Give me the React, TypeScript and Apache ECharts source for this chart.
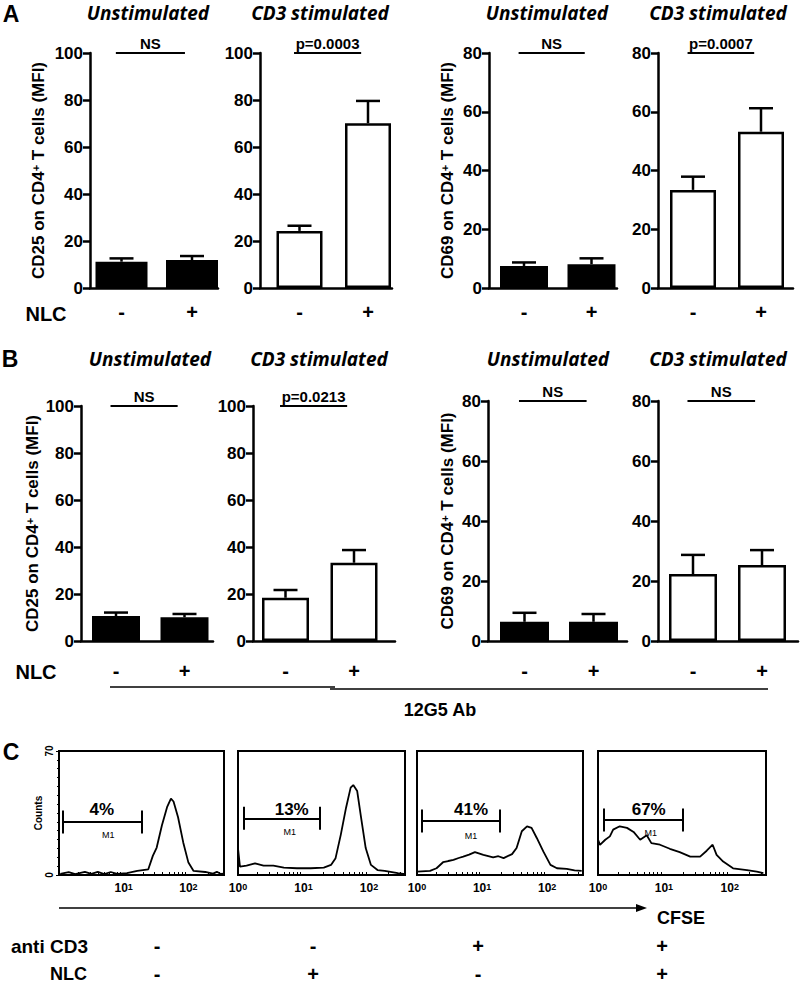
import React, { useEffect, useRef } from 'react';
import * as echarts from 'echarts';

// ---------------- Data ----------------
const nlcTicks = ['-', '+'];

// Panel A (MFI)
const aCD25Unstim = [11.2, 11.9];
const aCD25UnstimErr = [1.4, 1.7];
const aCD25CD3 = [24.3, 70.1];
const aCD25CD3Err = [2.2, 9.5];
const aCD69Unstim = [7.5, 8.1];
const aCD69UnstimErr = [1.2, 2.0];
const aCD69CD3 = [33.4, 53.2];
const aCD69CD3Err = [4.5, 8.0];

// Panel B (MFI, with 12G5 Ab)
const bCD25Unstim = [10.6, 10.1];
const bCD25UnstimErr = [1.5, 1.4];
const bCD25CD3 = [18.4, 33.3];
const bCD25CD3Err = [3.3, 5.4];
const bCD69Unstim = [6.4, 6.4];
const bCD69UnstimErr = [3.0, 2.6];
const bCD69CD3 = [22.3, 25.3];
const bCD69CD3Err = [6.4, 5.0];

const sigLabels = ['NS', 'p=0.0003', 'NS', 'p=0.0007', 'NS', 'p=0.0213', 'NS', 'NS'];
const yMaxes = [100, 100, 80, 80, 100, 100, 80, 80];
const yTickStep = 20;

// Panel C: CFSE histograms, [log10 CFSE, counts]
const cfseHist1 = [
  [0.02, 0.7], [0.15, 1.6], [0.25, 0.5], [0.4, 1.8], [0.5, 0.6], [0.6, 1.8], [0.7, 0.5],
  [0.8, 1.7], [0.9, 0.6], [1.05, 1.0], [1.21, 2.3], [1.38, 3.2], [1.45, 10.8], [1.51, 15.5],
  [1.59, 27.9], [1.67, 38.3], [1.73, 43.1], [1.77, 41.5], [1.84, 32.6], [1.92, 18.4],
  [2.0, 7.0], [2.08, 2.3], [2.26, 1.7], [2.38, 0.8], [2.44, 1.8], [2.5, 0.6], [2.55, 0.8],
];
const cfseHist2 = [
  [0, 15], [0.03, 4.7], [0.13, 5.3], [0.26, 6.6], [0.39, 5.3], [0.54, 5.3], [0.7, 4.2],
  [0.9, 3.8], [1.11, 3.8], [1.31, 4.2], [1.42, 5.7], [1.49, 9.5], [1.57, 22.8], [1.65, 38],
  [1.72, 49.3], [1.76, 50.8], [1.82, 47.4], [1.88, 32.3], [1.95, 15.2], [2.03, 5.7],
  [2.13, 2.8], [2.24, 2.3], [2.44, 1.0], [2.55, 0.5],
];
const cfseHist3 = [
  [0, 1.9], [0.2, 2.3], [0.3, 3.8], [0.4, 7.2], [0.48, 7.9], [0.56, 8.5], [0.64, 9.6], [0.71, 10.4],
  [0.8, 11.5], [0.89, 12.9], [1.02, 11.4], [1.17, 9.9], [1.25, 10.6], [1.33, 9.5], [1.46, 11.8],
  [1.53, 15.2], [1.61, 24.7], [1.69, 27.5], [1.76, 26.6], [1.84, 20.9], [1.94, 13.3],
  [2.05, 5.7], [2.15, 3.8], [2.3, 3.4], [2.42, 2.6], [2.53, 2.3],
];
const cfseHist4 = [
  [0, 20], [0.03, 17], [0.11, 19.9], [0.18, 21.8], [0.23, 25.6], [0.33, 27.5], [0.44, 26.6],
  [0.54, 24.3], [0.64, 19.9], [0.74, 22.4], [0.81, 18], [0.94, 17.1], [1.09, 14.8],
  [1.24, 12.9], [1.4, 10.4], [1.55, 10.4], [1.65, 13.7], [1.74, 17.1], [1.8, 11.4],
  [1.9, 7.6], [2.05, 3.8], [2.26, 2.8], [2.41, 1.9], [2.51, 1.0],
];
const cfseHists = [cfseHist1, cfseHist2, cfseHist3, cfseHist4];
const gatePercents = ['4%', '13%', '41%', '67%'];
const gateRanges = [[0.06, 1.28], [0.09, 1.25], [0.08, 1.27], [0.08, 1.29]];
const gateLevels = [29.9, 32, 30.5, 31];
const antiCD3Row = ['-', '-', '+', '+'];
const nlcRowC = ['-', '+', '-', '+'];
const countsMax = 70;

// ---------------- Layout ----------------
const SANS = '"Liberation Sans", Arial, sans-serif';
const ITAL = '"Open Sans", "Noto Sans", sans-serif';

const barLayout = [
  { L: 90, R: 218, c1: 121.5, c2: 192, bw: 52, top: 53, bottom: 288 },
  { L: 260, R: 392, c1: 299.5, c2: 368, bw: 46, top: 53, bottom: 288 },
  { L: 489, R: 617, c1: 524, c2: 591.5, bw: 48, top: 53, bottom: 288 },
  { L: 658, R: 793, c1: 693, c2: 761, bw: 46, top: 53, bottom: 288 },
  { L: 81, R: 213, c1: 116, c2: 184.5, bw: 48, top: 406, bottom: 641 },
  { L: 253, R: 395, c1: 285.5, c2: 354, bw: 47, top: 406, bottom: 641 },
  { L: 488, R: 627, c1: 524.5, c2: 593.5, bw: 49, top: 401, bottom: 641 },
  { L: 658, R: 798, c1: 693, c2: 762, bw: 48, top: 401, bottom: 641 },
];
const yNameGap: Record<number, number> = { 0: 43, 2: 33, 4: 40, 6: 32 };
const histLayout = [
  { left: 59, width: 165 },
  { left: 238, width: 167 },
  { left: 417, width: 166 },
  { left: 598, width: 168 },
];
const histTop = 751;
const histHeight = 124;
const percentPos = [[0.66, 36.7], [0.82, 36.7], [0.83, 36.7], [0.77, 36.7]];
const m1Pos = [[0.76, 22.6], [0.79, 24.3], [0.83, 22.2], [0.8, 23.7]];
const cSignX = [157, 313, 478, 662];

function txt(text: string, x: number, y: number, size: number, opts: any = {}) {
  const align = opts.align || 'center';
  return {
    type: 'text',
    x,
    y,
    silent: true,
    style: {
      text,
      fill: '#000',
      fontSize: size,
      fontWeight: opts.weight || 'bold',
      fontStyle: opts.style || 'normal',
      fontFamily: opts.family || SANS,
      textAlign: align,
      align,
      textVerticalAlign: 'middle',
      verticalAlign: 'middle',
    },
  };
}

function buildOption() {
  const grid: any[] = [];
  const xAxis: any[] = [];
  const yAxis: any[] = [];
  const series: any[] = [];

  const barSets = [
    { v: aCD25Unstim, e: aCD25UnstimErr, filled: true },
    { v: aCD25CD3, e: aCD25CD3Err, filled: false },
    { v: aCD69Unstim, e: aCD69UnstimErr, filled: true },
    { v: aCD69CD3, e: aCD69CD3Err, filled: false },
    { v: bCD25Unstim, e: bCD25UnstimErr, filled: true },
    { v: bCD25CD3, e: bCD25CD3Err, filled: false },
    { v: bCD69Unstim, e: bCD69UnstimErr, filled: true },
    { v: bCD69CD3, e: bCD69CD3Err, filled: false },
  ];
  const yNames: Record<number, string> = {
    0: 'CD25 on CD4{sup|+} T cells (MFI)',
    2: 'CD69 on CD4{sup|+} T cells (MFI)',
    4: 'CD25 on CD4{sup|+} T cells (MFI)',
    6: 'CD69 on CD4{sup|+} T cells (MFI)',
  };

  barSets.forEach((set, i) => {
    const lay = barLayout[i];
    const unit = lay.c2 - lay.c1;
    const xmin = -(lay.c1 - lay.L) / unit;
    const xmax = 1 + (lay.R - lay.c2) / unit;
    grid.push({ left: lay.L, top: lay.top, width: lay.R - lay.L, height: lay.bottom - lay.top });
    xAxis.push({
      type: 'value',
      gridIndex: i,
      min: xmin,
      max: xmax,
      axisLine: { show: true, onZero: false, lineStyle: { color: '#000', width: 2.5 } },
      axisTick: { show: false },
      splitLine: { show: false },
      axisLabel: {
        customValues: [0, 1],
        formatter: (v: number) => nlcTicks[Math.round(v)] ?? '',
        color: '#000',
        fontSize: 20,
        fontWeight: 'bold',
        fontFamily: SANS,
        margin: i < 4 ? 14 : 20,
      },
    });
    yAxis.push({
      type: 'value',
      gridIndex: i,
      min: 0,
      max: yMaxes[i],
      interval: yTickStep,
      axisLine: { show: true, onZero: false, lineStyle: { color: '#000', width: 2.5 } },
      axisTick: { show: true, length: 7, lineStyle: { color: '#000', width: 2.5 } },
      splitLine: { show: false },
      axisLabel: { color: '#000', fontSize: 17, fontWeight: 'bold', fontFamily: SANS, margin: 7 },
      name: yNames[i] || '',
      nameLocation: 'middle',
      nameGap: yNameGap[i] || 30,
      nameTextStyle: {
        color: '#000',
        fontSize: 17,
        fontWeight: 'bold',
        fontFamily: SANS,
        rich: {
          sup: { fontSize: 11, fontWeight: 'bold', fontFamily: SANS, color: '#000', verticalAlign: 'top' },
        },
      },
    });
    series.push({
      type: 'bar',
      xAxisIndex: i,
      yAxisIndex: i,
      clip: false,
      barWidth: lay.bw,
      data: set.v.map((v, k) => [k, v]),
      itemStyle: { color: set.filled ? '#000' : '#fff', borderColor: '#000', borderWidth: 2.5 },
      markLine: {
        silent: true,
        symbol: 'none',
        lineStyle: { color: '#000', width: 2, type: 'solid' },
        label: {
          show: true,
          position: 'insideMiddleTop',
          formatter: sigLabels[i],
          color: '#000',
          fontSize: 15,
          fontWeight: 'bold',
          fontFamily: SANS,
          distance: 2,
        },
        data: [[{ coord: [-0.08, yMaxes[i]] }, { coord: [0.9, yMaxes[i]] }]],
      },
    });
    series.push({
      type: 'custom',
      xAxisIndex: i,
      yAxisIndex: i,
      clip: false,
      z: 5,
      encode: { x: 0, y: 1 },
      data: set.v.map((v, k) => [k, v, set.e[k]]),
      renderItem: (params: any, api: any) => {
        const x = api.value(0);
        const v = api.value(1);
        const e = api.value(2);
        const p0 = api.coord([x, v]);
        const p1 = api.coord([x, v + e]);
        const st = { stroke: '#000', lineWidth: 2.5 };
        return {
          type: 'group',
          children: [
            { type: 'line', shape: { x1: p0[0], y1: p0[1], x2: p1[0], y2: p1[1] }, style: st },
            { type: 'line', shape: { x1: p1[0] - 12, y1: p1[1], x2: p1[0] + 12, y2: p1[1] }, style: st },
          ],
        };
      },
    });
  });

  // Histograms
  const minorTicks: number[] = [];
  [0, 1, 2].forEach((dec) => {
    [2, 3, 4, 5, 6, 7, 8, 9].forEach((m) => {
      const t = dec + Math.log10(m);
      if (t < 2.55) minorTicks.push(t);
    });
  });

  cfseHists.forEach((hist, j) => {
    const gi = 8 + j;
    const lay = histLayout[j];
    grid.push({
      left: lay.left,
      top: histTop,
      width: lay.width,
      height: histHeight,
      show: true,
      borderColor: '#000',
      borderWidth: 2,
      backgroundColor: 'rgba(0,0,0,0)',
    });
    xAxis.push({
      type: 'value',
      gridIndex: gi,
      min: 0,
      max: 2.55,
      interval: 1,
      axisLine: { show: true, onZero: false, lineStyle: { color: '#000', width: 2 } },
      axisTick: { show: true, inside: true, length: 3, customValues: minorTicks, lineStyle: { color: '#000', width: 1 } },
      splitLine: { show: false },
      axisLabel: {
        showMaxLabel: false,
        formatter: (v: number) => {
          if (Math.abs(v - Math.round(v)) > 1e-6) return '';
          if (j === 0 && v === 0) return '';
          return '10{sup|' + Math.round(v) + '}';
        },
        color: '#000',
        fontSize: 12,
        fontWeight: 'bold',
        fontFamily: SANS,
        margin: 7,
        rich: { sup: { fontSize: 9, fontWeight: 'bold', fontFamily: SANS, color: '#000', verticalAlign: 'top' } },
      },
    });
    yAxis.push({
      type: 'value',
      gridIndex: gi,
      min: 0,
      max: countsMax,
      interval: countsMax,
      axisLine: { show: true, onZero: false, lineStyle: { color: '#000', width: 2 } },
      axisTick: { show: j === 0, length: 3, lineStyle: { color: '#000' } },
      minorTick: { show: j === 0, splitNumber: 14, length: 2, lineStyle: { color: '#000' } },
      splitLine: { show: false },
      axisLabel: { show: j === 0, rotate: 90, fontSize: 10, fontWeight: 'bold', color: '#000', fontFamily: SANS, margin: 5 },
      name: j === 0 ? 'Counts' : '',
      nameLocation: 'middle',
      nameGap: 16,
      nameTextStyle: { fontSize: 10, fontWeight: 'bold', color: '#000', fontFamily: SANS },
    });
    const [r0, r1] = gateRanges[j];
    const lvl = gateLevels[j];
    const cap = 6.5;
    series.push({
      type: 'line',
      xAxisIndex: gi,
      yAxisIndex: gi,
      data: hist,
      symbol: 'none',
      showSymbol: false,
      lineStyle: { color: '#000', width: 1.8 },
      markLine: {
        silent: true,
        symbol: 'none',
        label: { show: false },
        lineStyle: { color: '#000', width: 2, type: 'solid' },
        data: [
          [{ coord: [r0, lvl] }, { coord: [r1, lvl] }],
          [{ coord: [r0, lvl - cap] }, { coord: [r0, lvl + cap] }],
          [{ coord: [r1, lvl - cap] }, { coord: [r1, lvl + cap] }],
        ],
      },
    });
    const lab = (size: number, weight: string) => ({
      show: true,
      position: 'inside',
      fontSize: size,
      fontWeight: weight,
      fontFamily: SANS,
      color: '#000',
      textBorderWidth: 0,
      textBorderColor: 'transparent',
      textShadowBlur: 0,
    });
    series.push({
      type: 'scatter',
      xAxisIndex: gi,
      yAxisIndex: gi,
      symbolSize: 0,
      silent: true,
      itemStyle: { color: '#000', opacity: 1 },
      data: [
        { value: percentPos[j], label: { ...lab(17, 'bold'), formatter: gatePercents[j] } },
        { value: m1Pos[j], label: { ...lab(9, 'normal'), formatter: 'M1' } },
      ],
    });
  });

  const titleOpts = { weight: 'bold', style: 'italic', family: ITAL };
  const graphic: any[] = [
    txt('A', 11, 14, 23),
    txt('B', 10, 359, 23),
    txt('C', 11, 752, 23),
    txt('Unstimulated', 148, 13, 19, titleOpts),
    txt('CD3 stimulated', 320, 13, 19, titleOpts),
    txt('Unstimulated', 547, 13, 19, titleOpts),
    txt('CD3 stimulated', 718, 13, 19, titleOpts),
    txt('Unstimulated', 150, 359, 19, titleOpts),
    txt('CD3 stimulated', 319, 359, 19, titleOpts),
    txt('Unstimulated', 548, 359, 19, titleOpts),
    txt('CD3 stimulated', 718, 359, 19, titleOpts),
    txt('NLC', 46, 314, 20),
    txt('NLC', 36, 672, 20),
    { type: 'line', silent: true, shape: { x1: 110, y1: 687, x2: 335, y2: 687 }, style: { stroke: '#000', lineWidth: 1.5 } },
    { type: 'line', silent: true, shape: { x1: 330, y1: 689, x2: 768, y2: 689 }, style: { stroke: '#000', lineWidth: 1.5 } },
    txt('12G5 Ab', 440, 710, 18),
    { type: 'line', silent: true, shape: { x1: 59, y1: 908, x2: 640, y2: 908 }, style: { stroke: '#000', lineWidth: 1.5 } },
    { type: 'polygon', silent: true, shape: { points: [[647, 908], [636, 904], [636, 912]] }, style: { fill: '#000' } },
    txt('CFSE', 681, 918, 18),
    txt('anti CD3', 88, 946, 19, { align: 'right' }),
    txt('NLC', 87, 974, 18, { align: 'right' }),
  ];
  cSignX.forEach((x, k) => {
    graphic.push(txt(antiCD3Row[k], x, 946, 20));
    graphic.push(txt(nlcRowC[k], x, 974, 20));
  });

  return {
    animation: false,
    backgroundColor: '#fff',
    grid,
    xAxis,
    yAxis,
    series,
    graphic,
  };
}

export default function App() {
  const ref = useRef<HTMLDivElement>(null);
  useEffect(() => {
    if (!ref.current) return;
    const chart = echarts.init(ref.current, null, { renderer: 'svg' });
    chart.setOption(buildOption() as any);
    return () => chart.dispose();
  }, []);
  return (
    <div
      ref={ref}
      style={{ position: 'absolute', left: 0, top: 0, width: 800, height: 986, background: '#fff' }}
    />
  );
}
